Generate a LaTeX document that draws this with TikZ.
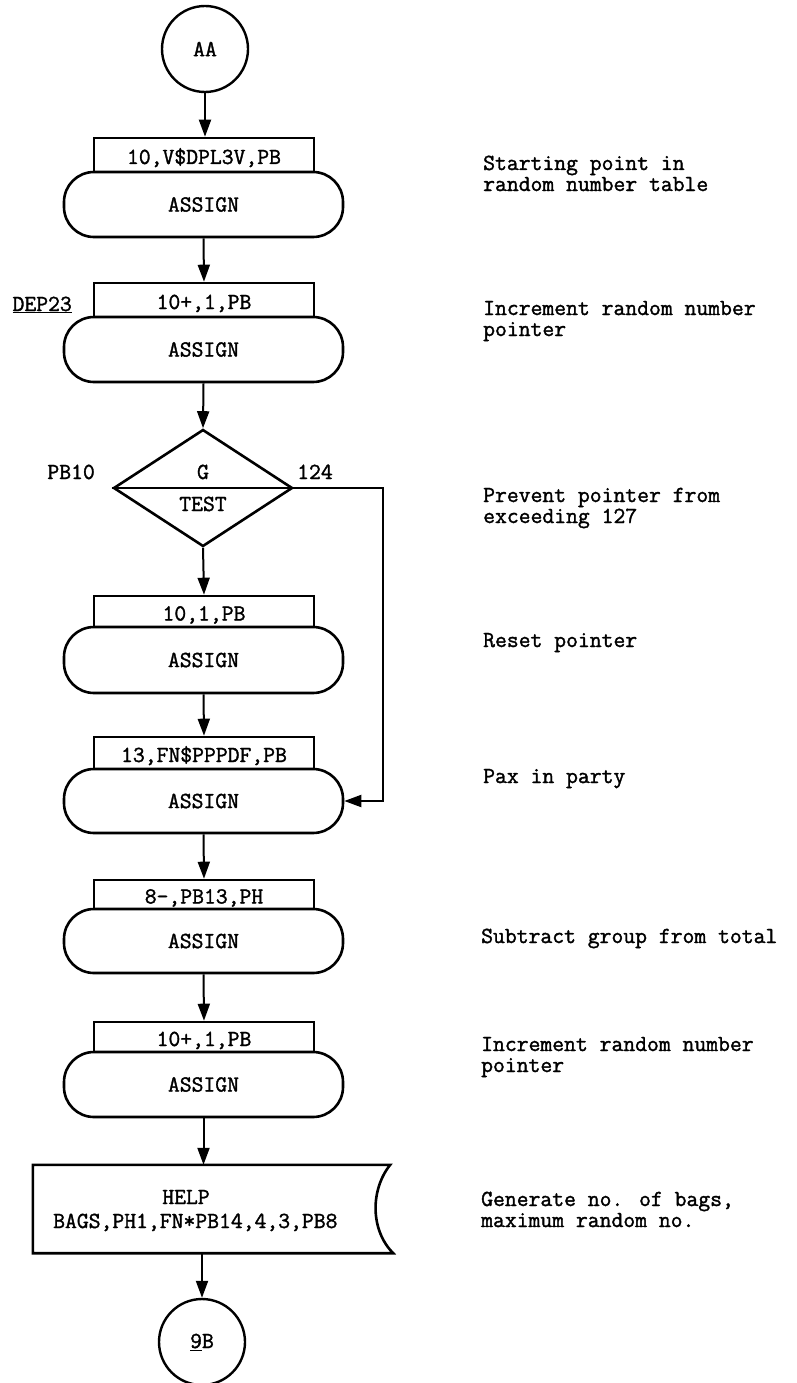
\documentclass[tikz,border=0pt]{standalone}
\usepackage{fontspec}
\setmainfont{Latin Modern Mono}[FakeBold=1.5]
\usetikzlibrary{arrows.meta,shapes.geometric}
\begin{document}
\begin{tikzpicture}[x=1pt,y=-1pt,
  txt/.style={font=\fontsize{23}{24}\selectfont, inner sep=0pt},
  box/.style={txt, draw, line width=2.6pt, minimum width=220pt, text height=18pt, text depth=0pt},
  term/.style={txt, draw, line width=2.6pt, rounded corners=30pt, minimum width=279pt},
  conn/.style={txt, draw, circle, line width=2.4pt, minimum size=86pt},
  arr/.style={line width=2pt, -{Triangle[length=17pt,width=12pt]}},
  lbl/.style={txt, anchor=base west},
]
\useasboundingbox (0,0) rectangle (796,1383);

% connector AA
\node[conn] (aa) at (205,49) {AA};

% block 1
\node[box, minimum height=34pt] (r1) at (204,155) {10,V\$DPL3V,PB};
\node[term, minimum height=65pt] (t1) at (203.5,204.5) {ASSIGN};

% block 2
\node[box, minimum height=34pt] (r2) at (204,300) {10+,1,PB};
\node[term, minimum height=65pt] (t2) at (203.5,349.5) {ASSIGN};
\node[txt, anchor=base east] (dep) at (72,311) {\underline{DEP23}};

% test
\node[txt, draw, diamond, line width=2.6pt, minimum width=179pt, minimum height=117pt] (dia) at (203,488) {};
\draw[line width=2.6pt] (dia.west) -- (dia.east);
\node[txt, anchor=base] (g) at (203,479) {G};
\node[txt, anchor=base] (test) at (203,511) {TEST};
\node[txt, anchor=base east] (pb10) at (95,479) {PB10};
\node[txt, anchor=base west] (n124) at (297,479) {124};

% block 3
\node[box, minimum height=31pt] (r3) at (204,611.5) {10,1,PB};
\node[term, minimum height=66pt] (t3) at (203.5,660) {ASSIGN};

% block 4
\node[box, minimum height=32pt] (r4) at (204,753) {13,FN\$PPPDF,PB};
\node[term, minimum height=64pt] (t4) at (203.5,801) {ASSIGN};

% block 5
\node[box, minimum height=29pt] (r5) at (204,894.5) {8-,PB13,PH};
\node[term, minimum height=64pt] (t5) at (203.5,941) {ASSIGN};

% block 6
\node[box, minimum height=30pt] (r6) at (204,1037) {10+,1,PB};
\node[term, minimum height=65pt] (t6) at (203.5,1084.5) {ASSIGN};

% HELP block
\node[txt, minimum width=357pt, minimum height=88pt] (help) at (211.5,1209) {};
\draw[line width=2.6pt] (help.north west) -- (help.north east)
  .. controls +(-20,25) and +(-23,-23) .. ([xshift=3pt]help.south east)
  -- (help.south west) -- cycle;
\node[txt, anchor=base] (helpt) at (186,1204) {HELP};
\node[txt, anchor=base west] (helpa) at (53,1228) {BAGS,PH1,FN*PB14,4,3,PB8};

% connector BB
\node[conn] (bb) at (202,1342) {\underline{9}B};

% connectors
\draw[arr] (aa.south) -- (aa.south |- r1.north);
\draw[arr] (t1.south) -- (r2.north);
\draw[arr] (t2.south) -- (dia.north);
\draw[arr] (dia.south) -- (r3.north);
\draw[arr] (t3.south) -- (r4.north);
\draw[arr] (t4.south) -- (r5.north);
\draw[arr] (t5.south) -- (r6.north);
\draw[arr] (t6.south) -- (t6.south |- help.north);
\draw[arr] (bb |- help.south) -- (bb.north);
\coordinate (lp) at (383,488);
\draw[arr] (dia.east) -- (lp) |- (t4.east);

% comments
\node[lbl] (c1a) at (483,170) {Starting point in};
\node[lbl] (c1b) at (483,191) {random number table};
\node[lbl] (c2a) at (483,315) {Increment random number};
\node[lbl] (c2b) at (483,336) {pointer};
\node[lbl] (c3a) at (483,502) {Prevent pointer from};
\node[lbl] (c3b) at (483,523) {exceeding 127};
\node[lbl] (c4) at (483,647) {Reset pointer};
\node[lbl] (c5) at (483,783) {Pax in party};
\node[lbl] (c6) at (481,943) {Subtract group from total};
\node[lbl] (c7a) at (481,1051) {Increment random number};
\node[lbl] (c7b) at (481,1072) {pointer};
\node[lbl] (c8a) at (481,1206) {Generate no. of bags,};
\node[lbl] (c8b) at (481,1227) {maximum random no.};
\end{tikzpicture}
\end{document}
